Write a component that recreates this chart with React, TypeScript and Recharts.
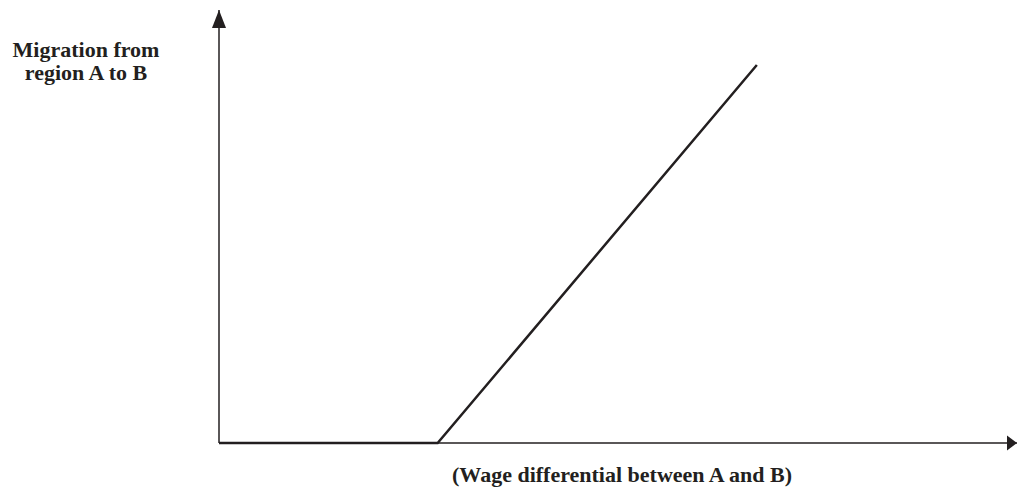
import { LineChart, Line, XAxis, YAxis, ReferenceDot } from "recharts";

// migration curve: zero until a threshold wage gap, then rising linearly
const wageGap = [0, 27.4, 67.4];
const migration = [0, 0, 87.3];
const yLabelLines = ["Migration from", "region A to B"];
const xLabelText = "(Wage differential between A and B)";

const chartData = wageGap.map((x, i) => ({ x, y: migration[i] }));

const INK = "#231f20";
const FONT = "'Liberation Serif', 'Times New Roman', serif";

const UpArrow = (props: any) => {
  const { cx, cy } = props;
  return <polygon points={`${cx},${cy} ${cx - 7},${cy + 18} ${cx + 7},${cy + 18}`} fill={INK} />;
};

const RightArrow = (props: any) => {
  const { cx, cy } = props;
  return <polygon points={`${cx},${cy} ${cx - 10},${cy - 7.5} ${cx - 10},${cy + 7.5}`} fill={INK} />;
};

const YLabel = (props: any) => {
  const { viewBox } = props;
  const x = viewBox.x + viewBox.width - 133;
  return (
    <text textAnchor="middle" fontFamily={FONT} fontWeight="bold" fontSize={22} fill={INK}>
      {yLabelLines.map((line, i) => (
        <tspan key={line} x={x} y={57 + i * 23}>
          {line}
        </tspan>
      ))}
    </text>
  );
};

const XLabel = (props: any) => {
  const { viewBox } = props;
  return (
    <text
      x={viewBox.x + 403}
      y={viewBox.y + 39}
      textAnchor="middle"
      fontFamily={FONT}
      fontWeight="bold"
      fontSize={22}
      fill={INK}
    >
      {xLabelText}
    </text>
  );
};

export default function App() {
  return (
    <div style={{ position: "absolute", left: 0, top: 0, background: "#fff" }}>
      <LineChart width={1017} height={489} data={chartData} margin={{ top: 10, right: 0, bottom: 45, left: 208 }}>
        <XAxis
          dataKey="x"
          type="number"
          domain={[0, 100]}
          height={1}
          tick={false}
          tickLine={false}
          axisLine={{ stroke: INK, strokeWidth: 1.5 }}
          label={<XLabel />}
        />
        <YAxis
          type="number"
          domain={[0, 100]}
          width={11}
          tick={false}
          tickLine={false}
          axisLine={{ stroke: INK, strokeWidth: 1.5 }}
          label={<YLabel />}
        />
        <Line
          type="linear"
          dataKey="y"
          stroke={INK}
          strokeWidth={2.5}
          dot={false}
          isAnimationActive={false}
        />
        <ReferenceDot x={0} y={100} r={0} ifOverflow="visible" shape={<UpArrow />} />
        <ReferenceDot x={100} y={0} r={0} ifOverflow="visible" shape={<RightArrow />} />
      </LineChart>
    </div>
  );
}
